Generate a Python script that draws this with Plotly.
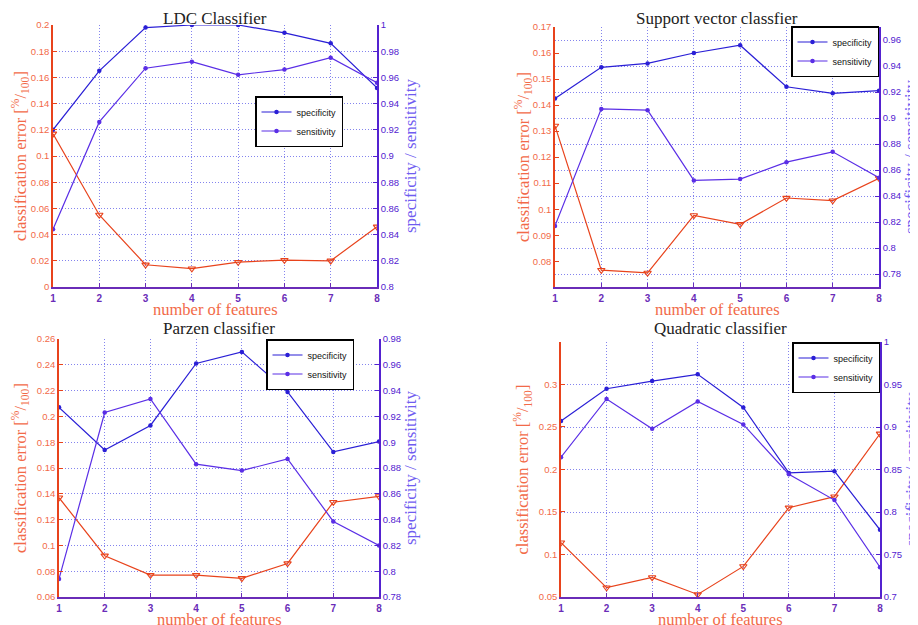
import plotly.graph_objects as go

# ---------------- data ----------------
features = [1, 2, 3, 4, 5, 6, 7, 8]

ldc_error = [0.117, 0.055, 0.017, 0.014, 0.019, 0.0205, 0.020, 0.046]
ldc_spec = [0.920, 0.965, 0.998, 1.000, 1.000, 0.994, 0.986, 0.952]
ldc_sens = [0.844, 0.926, 0.967, 0.972, 0.962, 0.966, 0.975, 0.956]

svc_error = [0.132, 0.0766, 0.0755, 0.0976, 0.0942, 0.1043, 0.1033, 0.1119]
svc_spec = [0.915, 0.939, 0.942, 0.950, 0.956, 0.924, 0.919, 0.921]
svc_sens = [0.817, 0.907, 0.906, 0.852, 0.853, 0.866, 0.874, 0.854]

parzen_error = [0.137, 0.092, 0.077, 0.077, 0.0745, 0.086, 0.1335, 0.138]
parzen_spec = [0.927, 0.894, 0.913, 0.961, 0.970, 0.939, 0.8925, 0.9005]
parzen_sens = [0.794, 0.923, 0.9335, 0.883, 0.878, 0.887, 0.8386, 0.820]

quad_error = [0.114, 0.061, 0.073, 0.053, 0.086, 0.155, 0.168, 0.242]
quad_spec = [0.907, 0.945, 0.954, 0.962, 0.923, 0.846, 0.848, 0.779]
quad_sens = [0.8645, 0.933, 0.898, 0.930, 0.903, 0.8445, 0.814, 0.735]

titles = ["LDC Classifier", "Support vector classfier", "Parzen classifier", "Quadratic classifier"]
series_names = ["specificity", "sensitivity"]
x_title = "number of features"
left_title = "classification error [<sup>%</sup>/<sub>100</sub>]"
right_title = "specificity / sensitivity"

# ---------------- style ----------------
W, H = 918, 625
OFF = 8  # page body margin
ERR_C = "#e8431c"
ERR_TXT = "#f26a48"
SPEC_C = "#2a1fd6"
SENS_C = "#5a2ee6"
AX_R = "#5322d0"
AX_X = "#6a2cb8"
RT_TXT = "#6f5cf0"
GRID_C = "rgba(110,110,235,0.85)"
SERIF = "Liberation Serif, DejaVu Serif, serif"
SANS = "Liberation Sans, Arial, sans-serif"


def fx(px):
    return (px - OFF) / W


def fy(py):
    return 1 - (py - OFF) / H


panels = [
    dict(data=(ldc_error, ldc_spec, ldc_sens), box=(53, 25, 377, 287),
         lrange=[0, 0.2], l0=0, ldt=0.02, rrange=[0.8, 1.0], r0=0.8, rdt=0.02,
         leg=(343, 96), ttl_y=8, ttl_anchor="top", xt_y=309, lt_x=20, rt_x=410),
    dict(data=(svc_error, svc_spec, svc_sens), box=(555, 27, 879, 287),
         lrange=[0.0701, 0.17], l0=0.08, ldt=0.01, rrange=[0.77, 0.97], r0=0.78, rdt=0.02,
         leg=(879, 26), ttl_y=8, ttl_anchor="top", xt_y=309, lt_x=523, rt_x=911),
    dict(data=(parzen_error, parzen_spec, parzen_sens), box=(59, 339, 379, 597),
         lrange=[0.06, 0.26], l0=0.06, ldt=0.02, rrange=[0.78, 0.98], r0=0.78, rdt=0.02,
         leg=(354, 339), ttl_y=329, ttl_anchor="middle", xt_y=619, lt_x=20, rt_x=410),
    dict(data=(quad_error, quad_spec, quad_sens), box=(561, 342, 880, 597),
         lrange=[0.05, 0.3499], l0=0.05, ldt=0.05, rrange=[0.7, 1.0], r0=0.7, rdt=0.05,
         leg=(880, 342), ttl_y=328, ttl_anchor="middle", xt_y=619, lt_x=523, rt_x=911),
]

fig = go.Figure()
layout = {}
annotations = []

for i, p in enumerate(panels):
    k = i + 1
    xname = "x" if k == 1 else f"x{k}"
    yl = "y" if k == 1 else f"y{2 * k - 1}"
    yr = f"y{2 * k}"
    legname = "legend" if k == 1 else f"legend{k}"
    x0, y0, x1, y1 = p["box"]
    err, spec, sens = p["data"]

    fig.add_trace(go.Scatter(
        x=features, y=err, xaxis=xname, yaxis=yl, mode="lines+markers",
        line=dict(color=ERR_C, width=1.2),
        marker=dict(symbol="triangle-down-open", size=6.5, color=ERR_C, line=dict(width=1.1)),
        showlegend=False, name="classification error"))
    for nm, vals, col in ((series_names[0], spec, SPEC_C), (series_names[1], sens, SENS_C)):
        fig.add_trace(go.Scatter(
            x=features, y=vals, xaxis=xname, yaxis=yr, mode="lines+markers",
            line=dict(color=col, width=1.2),
            marker=dict(symbol="circle", size=4.5, color=col),
            name=nm, legend=legname))

    xkey = "xaxis" if k == 1 else f"xaxis{k}"
    ylkey = "yaxis" if k == 1 else f"yaxis{2 * k - 1}"
    yrkey = f"yaxis{2 * k}"

    layout[xkey] = dict(
        domain=[fx(x0), fx(x1)], anchor=yl, range=[1, 8], tickmode="array",
        tickvals=features, ticktext=[str(v) for v in features],
        ticks="inside", ticklen=4, tickcolor=AX_X,
        tickfont=dict(family=SANS, size=10, color=AX_X, weight="bold"),
        showline=True, linecolor=AX_X, linewidth=1.5,
        showgrid=True, gridcolor=GRID_C, griddash="1px,2px", gridwidth=1,
        zeroline=False, ticklabelstandoff=1, automargin=False)
    layout[ylkey] = dict(
        domain=[fy(y1), fy(y0)], anchor=xname, range=p["lrange"],
        tick0=p["l0"], dtick=p["ldt"], ticks="inside", ticklen=4, tickcolor=ERR_C,
        tickfont=dict(family=SANS, size=9.5, color=ERR_TXT),
        showline=True, linecolor=ERR_C, linewidth=1.5, showgrid=False, zeroline=False,
        automargin=False)
    layout[yrkey] = dict(
        domain=[fy(y1), fy(y0)], anchor=xname, overlaying=yl, side="right",
        range=p["rrange"], tick0=p["r0"], dtick=p["rdt"], ticks="inside", ticklen=4,
        tickcolor=AX_R, tickfont=dict(family=SANS, size=9.5, color=AX_R),
        showline=True, linecolor=AX_R, linewidth=1.5,
        showgrid=True, gridcolor=GRID_C, griddash="1px,2px", gridwidth=1, zeroline=False,
        automargin=False)

    lx, ly = p["leg"]
    layout[legname] = dict(
        x=fx(lx), y=fy(ly), xanchor="right", yanchor="top",
        bgcolor="white", bordercolor="black", borderwidth=1.5,
        font=dict(family=SANS, size=9, color="#111"),
        tracegroupgap=0, itemwidth=30)

    cx = (x0 + x1) / 2
    annotations.append(dict(text=titles[i], x=fx(cx), y=fy(p["ttl_y"]), xref="paper", yref="paper",
                            xanchor="center", yanchor=p["ttl_anchor"], showarrow=False, borderpad=0,
                            font=dict(family=SERIF, size=17, color="#222")))
    annotations.append(dict(text=x_title, x=fx(cx), y=fy(p["xt_y"]), xref="paper", yref="paper",
                            xanchor="center", yanchor="middle", showarrow=False, borderpad=0,
                            font=dict(family=SERIF, size=16.5, color=ERR_TXT)))
    cy = (y0 + y1) / 2
    annotations.append(dict(text=left_title, x=fx(p["lt_x"]), y=fy(cy), xref="paper", yref="paper",
                            xanchor="center", yanchor="middle", showarrow=False, textangle=-90,
                            font=dict(family=SERIF, size=16.5, color=ERR_TXT)))
    annotations.append(dict(text=right_title, x=fx(p["rt_x"]), y=fy(cy), xref="paper", yref="paper",
                            xanchor="center", yanchor="middle", showarrow=False, textangle=-90,
                            font=dict(family=SERIF, size=17, color=RT_TXT)))

fig.update_layout(**layout)
fig.update_layout(
    width=W, height=H, margin=dict(l=0, r=0, t=0, b=0, autoexpand=False),
    paper_bgcolor="white", plot_bgcolor="white",
    annotations=annotations, showlegend=True)

fig.write_html("out.html")
